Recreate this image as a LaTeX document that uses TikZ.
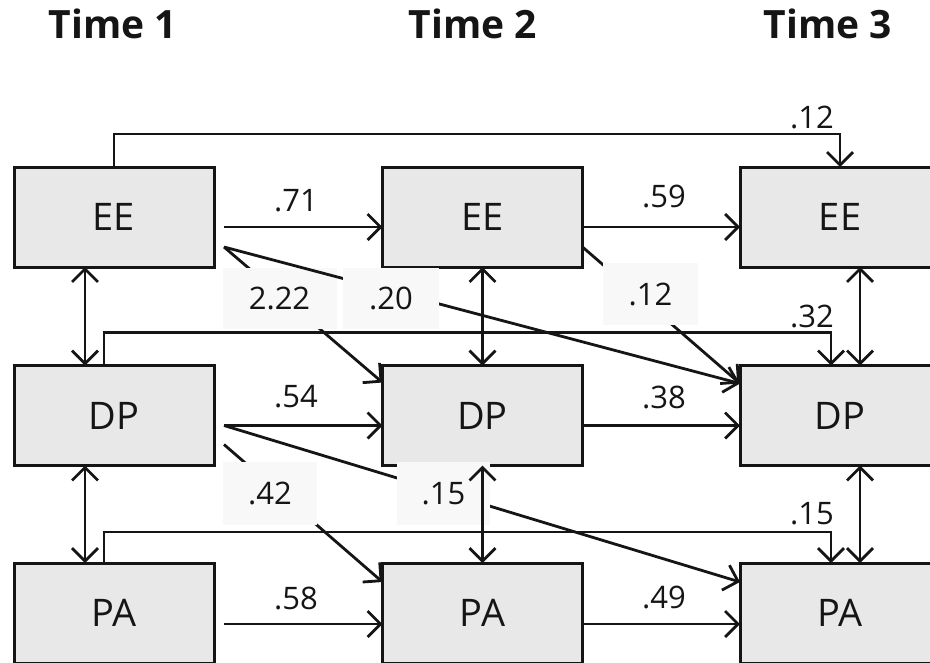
\documentclass[tikz,border=0pt]{standalone}
\usepackage{fontspec}
\setmainfont{Open Sans}
\usetikzlibrary{arrows.meta}
\definecolor{boxgray}{HTML}{E8E8E8}
\definecolor{maskgray}{HTML}{F8F8F8}
\definecolor{ink}{HTML}{151515}
\begin{document}
\begin{tikzpicture}[x=1pt,y=-1pt,
  box/.style={draw=ink, line width=3pt, fill=boxgray, minimum width=200pt, minimum height=100pt,
    inner sep=0pt, outer sep=0pt, font=\fontsize{38}{40}\selectfont, text=ink},
  tip/.style={},
  arr/.style={draw=ink, line width=2.8pt, -{Straight Barb[length=13pt,width=26pt,line width=2.8pt]}},
  dbl/.style={draw=ink, line width=2.8pt, {Straight Barb[length=13pt,width=26pt,line width=2.8pt]}-{Straight Barb[length=13pt,width=26pt,line width=2.8pt]}},
  lbl/.style={inner sep=0pt, font=\fontsize{31}{33}\selectfont, text=ink},
  masklbl/.style={lbl, fill=maskgray},
  ttl/.style={inner sep=0pt, font=\fontsize{39}{41}\selectfont\bfseries, text=ink}
]
\useasboundingbox (0,0) rectangle (930,662);
\clip (0,0) rectangle (930,662);

% titles
\node[ttl] (t1) at (113,24) {Time 1};
\node[ttl] (t2) at (473,24) {Time 2};
\node[ttl] (t3) at (828,24) {Time 3};

% boxes
\node[box] (EE1) at (114,217) {EE};
\node[box] (EE2) at (482.5,217) {EE};
\node[box] (EE3) at (840,217) {EE};
\node[box] (DP1) at (114,415.5) {DP};
\node[box] (DP2) at (482.5,415.5) {DP};
\node[box] (DP3) at (840,415.5) {DP};
\node[box] (PA1) at (114,613) {PA};
\node[box] (PA2) at (482.5,613) {PA};
\node[box] (PA3) at (840,613) {PA};

% cross-lagged paths, each partly masked by its label
\draw[arr] ([xshift=10pt,yshift=-30pt]EE1.east) -- ([yshift=-17pt]DP2.north west);
\node[masklbl, minimum width=114pt, minimum height=61pt] (l222) at (279.5,298.5) {2.22};
\draw[arr] ([xshift=10pt,yshift=-30pt]EE1.east) -- ([yshift=-18pt]DP3.north west);
\node[masklbl, minimum width=96pt, minimum height=61pt] (l20) at (391,298.5) {.20};
\draw[arr] ([yshift=-30pt]EE2.east) -- ([yshift=-18pt]DP3.north west);
\node[masklbl, minimum width=95pt, minimum height=62pt] (l12b) at (650.5,294) {.12};
\draw[arr] ([xshift=10pt,yshift=-29pt]DP1.east) -- ([yshift=-19pt]PA2.north west);
\node[masklbl, minimum width=94pt, minimum height=63pt] (l42) at (270,493.5) {.42};
\draw[arr] ([xshift=10pt,yshift=-10pt]DP1.east) -- ([yshift=-19pt]PA3.north west);
\node[masklbl, minimum width=93pt, minimum height=63pt] (l15b) at (443.5,493.5) {.15};

% autoregressive paths
\draw[arr] ([xshift=10pt,yshift=-10pt]EE1.east) -- ([yshift=-10pt]EE2.west);
\draw[arr] ([yshift=-10pt]EE2.east) -- ([yshift=-10pt]EE3.west);
\draw[arr] ([xshift=10pt,yshift=-10pt]DP1.east) -- ([yshift=-10pt]DP2.west);
\draw[arr] ([yshift=-10pt]DP2.east) -- ([yshift=-10pt]DP3.west);
\draw[arr] ([xshift=10pt,yshift=-11pt]PA1.east) -- ([yshift=-11pt]PA2.west);
\draw[arr] ([yshift=-11pt]PA2.east) -- ([yshift=-11pt]PA3.west);

% time 1 -> time 3 paths
\draw[arr] (EE1.north) -- ++(0,-33) -| (EE3.north);
\draw[arr] ([xshift=-10pt]DP1.north) -- ++(0,-33) -| ([xshift=-9pt]DP3.north);
\draw[arr] ([xshift=-10pt]PA1.north) -- ++(0,-31) -| ([xshift=-9pt]PA3.north);

% correlations
\draw[dbl] ([xshift=-29pt]EE1.south) -- ([xshift=-29pt]DP1.north);
\draw[dbl] (EE2.south) -- (DP2.north);
\draw[dbl] ([xshift=20pt]EE3.south) -- ([xshift=20pt]DP3.north);
\draw[dbl] ([xshift=-29pt]DP1.south) -- ([xshift=-29pt]PA1.north);
\draw[dbl] (DP2.south) -- (PA2.north);
\draw[dbl] ([xshift=20pt]DP3.south) -- ([xshift=20pt]PA3.north);

% labels
\node[lbl] (l71) at (296,201) {.71};
\node[lbl] (l59) at (664,196) {.59};
\node[lbl] (l54) at (296,397) {.54};
\node[lbl] (l38) at (664,397) {.38};
\node[lbl] (l58) at (296,598) {.58};
\node[lbl] (l49) at (664,597) {.49};
\node[lbl] (l12a) at (812,117) {.12};
\node[lbl] (l32) at (812,316) {.32};
\node[lbl] (l15a) at (812,514) {.15};
\end{tikzpicture}
\end{document}
